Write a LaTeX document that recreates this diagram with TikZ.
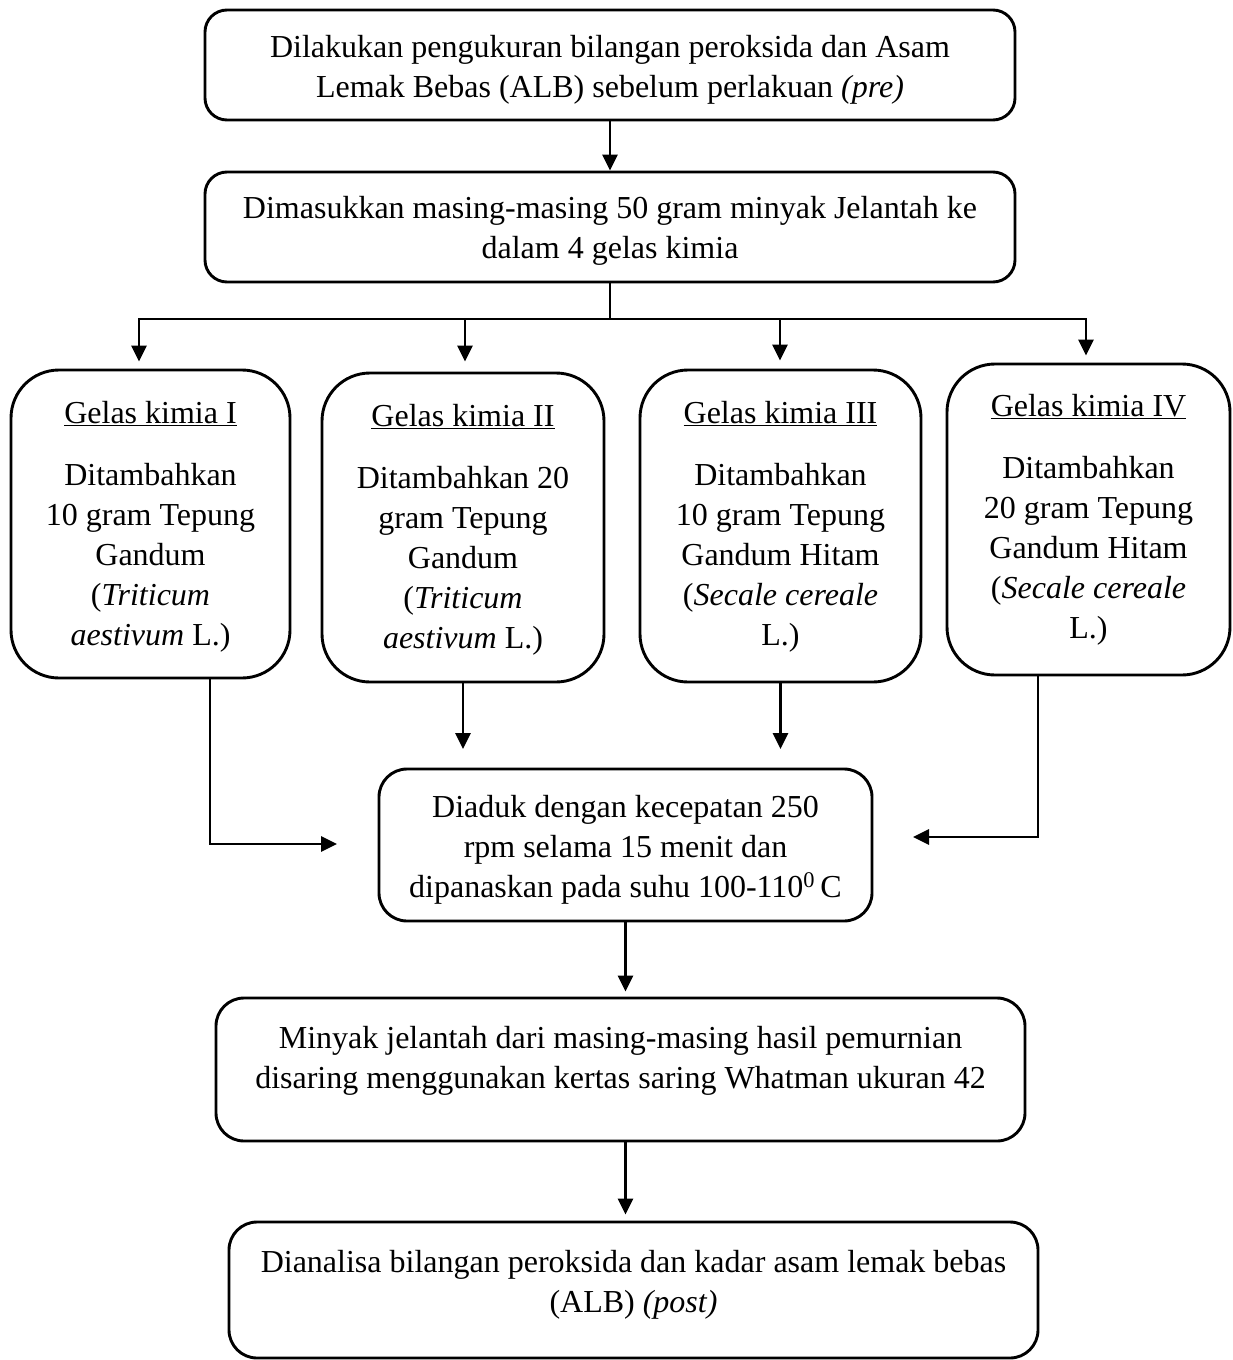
\documentclass[tikz,border=0pt]{standalone}
\usepackage{fontspec}
\setmainfont{Liberation Serif}
\usetikzlibrary{arrows.meta,calc}
\begin{document}
\begin{tikzpicture}[x=1pt,y=-1pt,
  box/.style={draw, line width=2.9pt, align=center, inner sep=0pt,
    font=\fontsize{32}{40}\selectfont, text depth=8pt},
  wide/.style={box, rounded corners=22pt, minimum width=810pt, minimum height=110pt},
  gbox/.style={box, rounded corners=48pt, minimum width=281pt, minimum height=309pt},
  arr/.style={line width=2.9pt, -{Triangle[length=16pt,width=15pt]}},
  ln/.style={line width=2.9pt}]
\useasboundingbox (0,0) rectangle (1233,1360);

\node[wide, text height=72pt] (b1) at (610,65) {Dilakukan pengukuran bilangan peroksida dan Asam\\Lemak Bebas (ALB) sebelum perlakuan \textit{(pre)}};
\node[wide, text height=70pt] (b2) at (610,227) {Dimasukkan masing-masing 50 gram minyak Jelantah ke\\dalam 4 gelas kimia};

\node[gbox, minimum width=279pt, minimum height=308pt, text height=250pt] (g1) at (150.5,524) {\underline{Gelas kimia I}\\[22pt]Ditambahkan\\10 gram Tepung\\Gandum\\(\textit{Triticum}\\\textit{aestivum} L.)};
\node[gbox, minimum width=282pt, minimum height=309pt, text height=249pt] (g2) at (463,527.5) {\underline{Gelas kimia II}\\[22pt]Ditambahkan 20\\gram Tepung\\Gandum\\(\textit{Triticum}\\\textit{aestivum} L.)};
\node[gbox, minimum width=281pt, minimum height=312pt, text height=246pt] (g3) at (780.5,526) {\underline{Gelas kimia III}\\[22pt]Ditambahkan\\10 gram Tepung\\Gandum Hitam\\(\textit{Secale cereale}\\L.)};
\node[gbox, minimum width=283pt, minimum height=311pt, text height=245pt] (g4) at (1088.5,519.5) {\underline{Gelas kimia IV}\\[22pt]Ditambahkan\\20 gram Tepung\\Gandum Hitam\\(\textit{Secale cereale}\\L.)};

\node[box, rounded corners=28pt, minimum width=493pt, minimum height=152pt, text height=112pt] (d) at (625.5,845) {Diaduk dengan kecepatan 250\\rpm selama 15 menit dan\\dipanaskan pada suhu 100-110\textsuperscript{0}\,C};
\node[box, rounded corners=28pt, minimum width=809pt, minimum height=143pt, text height=45pt] (m) at (620.5,1069.5) {Minyak jelantah dari masing-masing hasil pemurnian\\disaring menggunakan kertas saring Whatman ukuran 42};
\node[box, rounded corners=28pt, minimum width=809pt, minimum height=136pt, text height=52pt] (f) at (633.5,1290) {Dianalisa bilangan peroksida dan kadar asam lemak bebas\\(ALB) \textit{(post)}};

% connectors
\draw[arr] (b1) -- (b2);
\coordinate (bus) at (610,319);
\coordinate (t1) at (139,319);
\coordinate (t2) at (465,319);
\coordinate (t3) at (780,319);
\coordinate (t4) at (1086,319);
\draw[ln] (b2.south) -- (bus);
\draw[ln, line cap=rect] (t1) -- (t4);
\draw[arr, shorten >=7pt] (t1) -- (t1 |- g1.north);
\draw[arr, shorten >=10pt] (t2) -- (t2 |- g2.north);
\draw[arr, shorten >=8pt] (t3) -- (t3 |- g3.north);
\draw[arr, shorten >=7pt] (t4) -- (t4 |- g4.north);

\coordinate (e2) at (463,749);
\coordinate (e3) at (780.5,749);
\draw[arr] (g2.south) -- (e2);
\draw[arr] (g3.south) -- (e3);

\coordinate (k1) at (210,844);
\coordinate (e1) at (337,844);
\draw[arr] (k1 |- g1.south) -- (k1) -- (e1);
\coordinate (k4) at (1038,837);
\coordinate (e4) at (913,837);
\draw[arr] (k4 |- g4.south) -- (k4) -- (e4);

\draw[arr, shorten >=5pt] (d.south) -- (d.south |- m.north);
\draw[arr, shorten >=6pt] (m.south -| d.south) -- (f.north -| d.south);
\end{tikzpicture}
\end{document}
